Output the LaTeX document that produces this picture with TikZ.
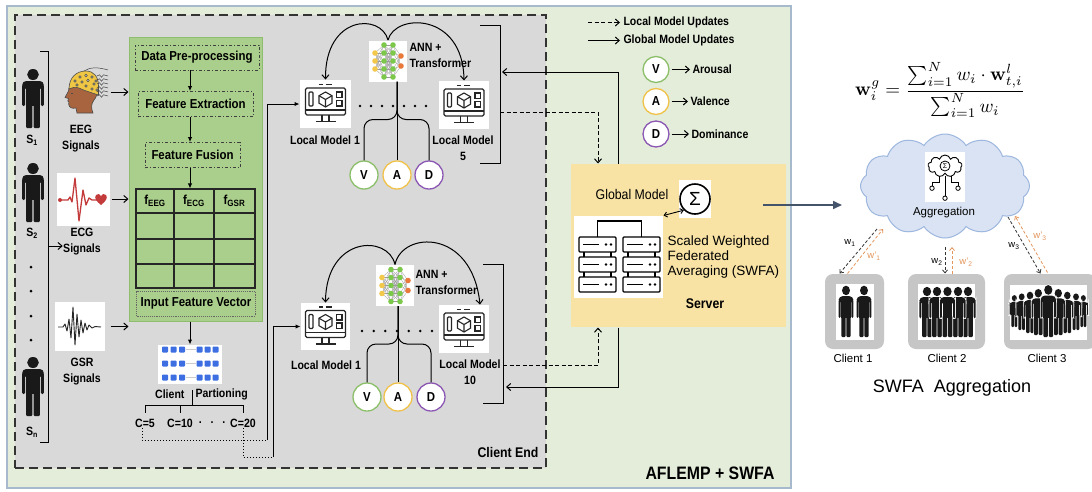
\documentclass[tikz,border=0pt]{standalone}
\usepackage[no-math]{fontspec}
\setmainfont{Liberation Sans}
\newfontfamily\cond[FakeStretch=0.88]{Liberation Sans}
\usetikzlibrary{arrows.meta,shapes.symbols,calc}

% colours
\definecolor{outerbg}{HTML}{E4EDDA}
\definecolor{outerln}{HTML}{A7BACD}
\definecolor{clientbg}{HTML}{D9D9D9}
\definecolor{panelgreen}{HTML}{AACF8C}
\definecolor{panelline}{HTML}{8FBD6E}
\definecolor{serverbg}{HTML}{F8E3A5}
\definecolor{cloudbg}{HTML}{DAE3F3}
\definecolor{cloudln}{HTML}{9DB7DE}
\definecolor{vgreen}{HTML}{8CBF69}
\definecolor{ayellow}{HTML}{F0C24A}
\definecolor{dpurple}{HTML}{8B57B3}
\definecolor{worange}{HTML}{E3965B}
\definecolor{slate}{HTML}{44546A}
\definecolor{chipblue}{HTML}{3D6FE3}
\definecolor{ecgred}{HTML}{C43B3B}
\definecolor{skin}{HTML}{A8643F}
\definecolor{capyellow}{HTML}{EFC745}
\definecolor{clientgray}{HTML}{C6C6C6}
\definecolor{nnline}{HTML}{9A9A9A}
\definecolor{nnorange}{HTML}{E9793A}
\definecolor{nngreen}{HTML}{7CC84A}
\definecolor{nnyellow}{HTML}{F2C94C}

\newcommand\lblfont{\cond\bfseries\fontsize{12}{16}\selectfont}
\newcommand\stagefont{\cond\bfseries\fontsize{13}{16}\selectfont}

% silhouette of a standing person, feet at the origin
\newcommand\personfill[1]{%
  \fill[#1] (0,-53.5) circle (5.5);
  \fill[#1,rounded corners=4pt] (-10.2,-39) -- (-10.2,-47) -- (10.2,-47) -- (10.2,-39) -- cycle;
  \fill[#1,rounded corners=1.2pt] (-10.2,-43) rectangle (-7.5,-22);
  \fill[#1,rounded corners=1.2pt] (7.5,-43) rectangle (10.2,-22);
  \fill[#1] (-6.5,-45) rectangle (6.5,-22);
  \fill[#1,rounded corners=1pt] (-6.5,-25) rectangle (-0.6,0);
  \fill[#1,rounded corners=1pt] (0.6,-25) rectangle (6.5,0);
}

\tikzset{
  lbl/.style={font=\lblfont, inner sep=0pt, align=center},
  stagebox/.style={draw=black!75, dash dot, line width=0.9pt, font=\stagefont, inner sep=0pt, minimum height=25pt},
  vad/.style={circle, fill=white, line width=1.3pt, minimum size=28pt, inner sep=0pt, font=\cond\bfseries\fontsize{13}{13}\selectfont},
  barb/.style={-{Straight Barb[length=4pt,width=7pt]}},
  smallbarb/.style={-{Straight Barb[length=3pt,width=5pt]}},
  tri/.style={-{Latex[length=5pt,width=4.5pt]}},
  localupd/.style={dash pattern=on 4pt off 2.5pt, line width=1pt},
  whitebox/.style={fill=white, inner sep=0pt},
  person/.pic={\personfill{black!90}},
  personw/.pic={\personfill{white,draw=white,line width=1.3pt}\personfill{black!90}},
  monitor/.pic={
    \begin{scope}[line width=1.1pt, draw=black!85]
      \draw[rounded corners=1.5pt] (-20,-16) rectangle (20,11);
      \draw (-20,6) -- (20,6);
      \draw (-3.5,11) -- (-3.5,17) (3.5,11) -- (3.5,17);
      \draw (-10,17.5) -- (10,17.5);
      \draw (-7,-19.5) -- (-3,-19.5) (0,-19.5) -- (6,-19.5);
      \draw[rounded corners=1pt] (-16.5,-12) rectangle (-12.5,2);
      \draw (0,-12) -- (6.5,-8.3) -- (6.5,-0.8) -- (0,3) -- (-6.5,-0.8) -- (-6.5,-8.3) -- cycle;
      \draw (-6.5,-8.3) -- (0,-4.5) -- (6.5,-8.3) (0,-4.5) -- (0,3);
      \draw (11,-12) rectangle (16.5,-6.5) (11,-3.5) rectangle (16.5,2);
    \end{scope}
  },
  ann/.pic={
    \foreach \ya in {-8,0,8}{\foreach \yb in {-16,-8,0,8,16}{\draw[nnline,line width=0.3pt] (-13,\ya) -- (-4,\yb);}}
    \foreach \ya in {-16,-8,0,8,16}{\foreach \yb in {-16,-8,0,8,16}{\draw[nnline,line width=0.3pt] (-4,\ya) -- (5,\yb);}}
    \foreach \ya in {-16,-8,0,8,16}{\foreach \yb in {-5,5}{\draw[nnline,line width=0.3pt] (5,\ya) -- (13,\yb);}}
    \foreach \y in {-8,0,8}{\fill[nnyellow] (-13,\y) circle (2.8);}
    \foreach \y in {-16,-8,0,8,16}{\fill[nngreen] (-4,\y) circle (2.8); \fill[nngreen] (5,\y) circle (2.8);}
    \foreach \y in {-5,5}{\fill[nnorange] (13,\y) circle (2.8);}
  },
}

\begin{document}
\begin{tikzpicture}[x=1pt,y=-1pt,line width=1pt]
\useasboundingbox (0,0) rectangle (1092,491);
\clip (0,0) rectangle (1092,491);
\fill[white] (0,0) rectangle (1092,491);

% ---------------- frames ----------------
\node[fill=outerbg, draw=outerln, line width=1.2pt, minimum width=784pt, minimum height=482pt, inner sep=0pt] (outer) at (399,247) {};
\node[fill=clientbg, draw=black!80, dash pattern=on 9pt off 5pt, line width=1.4pt, minimum width=531pt, minimum height=453pt, inner sep=0pt] (clientend) at (280.5,241.5) {};
\node[font=\cond\bfseries\fontsize{18}{18}\selectfont, inner sep=0pt] (title) at (710,473) {AFLEMP + SWFA};
\node[font=\cond\bfseries\fontsize{14}{14}\selectfont, inner sep=0pt] (celabel) at (508,452) {Client End};

% ---------------- subjects ----------------
\pic[xscale=1.06] at (33,128) {person};
\pic[xscale=1.06] at (33,222) {person};
\pic[xscale=1.06] at (33,416) {person};
\node[lbl] (s1) at (32,140) {S\textsubscript{1}};
\node[lbl] (s2) at (32,233) {S\textsubscript{2}};
\node[lbl] (sn) at (32,432) {S\textsubscript{n}};
\foreach \yy in {267,291,316,340} \fill (31,\yy) circle (1.5);
\coordinate (bt) at (48,51);
\coordinate (bb) at (48,442);
\coordinate (bm) at (48,246);
\draw ($(bt)+(-8,0)$) -- (bt) -- (bb) -- ($(bb)+(-8,0)$);

% ---------------- signals ----------------
\node[minimum width=42pt, minimum height=40pt, inner sep=0pt] (eeg) at (86,92) {};
\fill[skin, draw=black!70, line width=0.6pt] (79,80) .. controls (72,82) and (68.5,86) .. (68.5,91) -- (65,97.5) -- (68.5,98.5) -- (67.8,101) -- (69,102) -- (68.6,104) .. controls (69,107.5) and (72,109) .. (76,108) -- (77,113) -- (93,113) .. controls (91,108) and (91,104) .. (94,100) .. controls (98.5,95) and (98.5,85) .. (94,79) -- cycle;
\fill[capyellow, draw=black!70, line width=0.6pt] (69,89) .. controls (69,77) and (77,71) .. (86,71) .. controls (94,71) and (98.5,77) .. (98.5,86) -- (98.5,95) .. controls (93,93) and (85,91) .. (79,88) .. controls (75,86.5) and (72,87.5) .. (69,89) -- cycle;
\foreach \px/\py in {75/81, 80/77, 86/75.5, 92/77, 96/81, 77/85, 82/82, 88/80.5, 94/84, 86/86, 92/89, 97/90}{\draw[black!75, line width=0.5pt, fill=white] (\px,\py) circle (1.2);}
\foreach \wy in {76,80,84,88,92,96}{\draw[black!75, line width=0.5pt] (97,\wy) -- (99.5,\wy-1.2) -- (101.5,\wy+1.2) -- (103.5,\wy-1.2) -- (108,\wy);}
\draw[black!75, line width=0.5pt] (84,71) .. controls (90,67) and (98,67) .. (108,70);
\draw[black!70, line width=0.6pt] (70.5,93) -- (72.5,93);
\node[lbl] (eeglab) at (81,139) {EEG\\Signals};

\node[whitebox, minimum width=53pt, minimum height=53pt] (ecg) at (83.5,199) {};
\draw[ecgred, line width=1.3pt, line join=round] (60,200) -- (68,200) -- (70,197) -- (72,202) -- (75,178) -- (79,221) -- (83,190) -- (86,205) -- (89,198) -- (92,200) -- (97,200);
\fill[ecgred] (60,200) circle (2);
\fill[ecgred] (101,205) .. controls (96,201) and (94,198) .. (96,195) .. controls (98,193) and (100,194) .. (101,196) .. controls (102,194) and (104,193) .. (106,195) .. controls (108,198) and (106,201) .. (101,205) -- cycle;
\node[lbl] (ecglab) at (82,242) {ECG\\Signals};

\node[whitebox, minimum width=50pt, minimum height=49pt] (gsr) at (80,326.5) {};
\draw[black!85, line width=0.9pt, line join=round] (58,327) -- (63,327) -- (65,324) -- (67,331) -- (69,319) -- (71,338) -- (73,307) -- (75,345) -- (77,314) -- (79,337) -- (81,320) -- (83,333) -- (85,323) -- (87,330) -- (89,325) -- (92,328) -- (95,326.5) -- (101,327);
\node[lbl] (gsrlab) at (82,372) {GSR\\Signals};

\draw[barb] (bm) -- (ecglab.west |- bm);

% ---------------- feature panel ----------------
\node[fill=panelgreen, draw=panelline, line width=1pt, minimum width=133pt, minimum height=284pt, inner sep=0pt] (panel) at (195.5,179) {};
\draw[barb] ($(eeg.east)+(3,0)$) -- (panel.west |- eeg.east);
\draw[barb] ($(ecg.east)+(1,0)$) -- (panel.west |- ecg.east);
\draw[barb] ($(gsr.east)+(5,0)$) -- (panel.west |- gsr.east);

\coordinate (axis) at (190,0);
\node[stagebox, minimum width=124pt] (dp) at (197,57.5) {Data Pre-processing};
\node[stagebox, minimum width=115pt] (fe) at (195.5,104) {Feature Extraction};
\node[stagebox, minimum width=95pt] (ff) at (192.5,155) {Feature Fusion};
\node[draw=black!85, line width=1.2pt, minimum width=119pt, minimum height=99pt, inner sep=0pt] (tbl) at (195.5,238.5) {};
\draw[line width=1.2pt, black!85] (174,189) -- (174,288) (214,189) -- (214,288) (136,213) -- (255,213) (136,239) -- (255,239) (136,264) -- (255,264);
\node[font=\stagefont, inner sep=0pt] (feeg) at (155,201) {f\textsubscript{EEG}};
\node[font=\stagefont, inner sep=0pt] (fecg) at (194,201) {f\textsubscript{ECG}};
\node[font=\stagefont, inner sep=0pt] (fgsr) at (234.5,201) {f\textsubscript{GSR}};
\node[draw=black!60, densely dotted, line width=0.9pt, minimum width=119pt, minimum height=25pt, font=\stagefont, inner sep=0pt] (ifv) at (196,303.5) {Input Feature Vector};
\draw[tri] (dp.south -| axis) -- (fe.north -| axis);
\draw[tri] (fe.south -| axis) -- (ff.north -| axis);
\draw[tri] (ff.south -| axis) -- (tbl.north -| axis);

% ---------------- client partitioning ----------------
\node[whitebox, minimum width=64pt, minimum height=39pt] (part) at (190,364.5) {};
\foreach \yy in {349.5,363.5,377.5}{
  \foreach \xx in {165,173.5,182,199.5,207.5,215.5}{\fill[chipblue, rounded corners=0.8pt] (\xx-3,\yy-3) rectangle (\xx+3,\yy+3);}
  \draw[black!20, line width=0.8pt] (186,\yy) -- (196,\yy);
}
\draw[tri] (panel.south -| axis) -- (part.north -| axis);
\node[lbl, anchor=east] (pcl) at (185,394) {Client};
\node[lbl, anchor=west] (ppa) at (195,394) {Partioning};
\node[lbl] (c5) at (145,423) {C=5};
\node[lbl] (c10) at (180,423) {C=10};
\node[lbl] (cdots) at (212,423) {.\ \ \ .\ \ \ .};
\node[lbl] (c20) at (243,423) {C=20};
\coordinate (pj) at (192,405);
\draw (192,390) -- (pj);
\draw (c5.north |- pj) -- (c20.north |- pj);
\draw (c5.north |- pj) -- ++(0,8);
\draw (c10.north |- pj) -- ++(0,8);
\draw (c20.north |- pj) -- ++(0,8);

% ---------------- client group A ----------------
\node[whitebox, minimum width=51pt, minimum height=48pt] (lm1a) at (325.5,104) {};
\pic at (lm1a.center) {monitor};
\node[whitebox, minimum width=50pt, minimum height=48pt] (lm5) at (464,105) {};
\pic at (lm5.center) {monitor};
\node[whitebox, minimum width=38pt, minimum height=41pt] (ann1) at (388,61) {};
\pic at (ann1.center) {ann};
\node[lbl, anchor=west, align=left] (ann1lab) at (409,55) {ANN +\\Transformer};
\node[lbl] (lm1alab) at (325,140) {Local Model 1};
\node[lbl] (lm5lab) at (463,148) {Local Model\\5};
\foreach \xx in {360,371,382,393,404,415,426} \fill (\xx,106) circle (1.4);
\draw[barb] (ann1.north) .. controls (381,13) and (325,15) .. (lm1a.north);
\draw[barb] (ann1.north) .. controls (395,13) and (463,12) .. (lm5.north);
\node[vad, draw=vgreen] (v1) at (364,175) {V};
\node[vad, draw=ayellow] (a1) at (397,175) {A};
\node[vad, draw=dpurple] (d1) at (429,175) {D};
\coordinate (st1) at (397,81.5);
\draw (st1) -- (a1.north);
\draw[rounded corners=9pt] (st1) -- ($(st1)+(0,38)$) -| (v1.north);
\draw[rounded corners=9pt] (st1) -- ($(st1)+(0,38)$) -| (d1.north);
\coordinate (br1t) at (500,25);
\coordinate (br1b) at (500,163);
\draw ($(br1t)+(-20,0)$) -- (br1t) -- (br1b) -- ($(br1b)+(-20,0)$);
\coordinate (b1in) at (500,72);
\coordinate (b1out) at (500,112);

% ---------------- client group B ----------------
\node[whitebox, minimum width=49pt, minimum height=47pt] (lm1b) at (325.5,326.5) {};
\pic at (lm1b.center) {monitor};
\node[whitebox, minimum width=50pt, minimum height=48pt] (lm10) at (464,329) {};
\pic at (lm10.center) {monitor};
\node[whitebox, minimum width=38pt, minimum height=41pt] (ann2) at (395,285.5) {};
\pic at (ann2.center) {ann};
\node[lbl, anchor=west, align=left] (ann2lab) at (415,282) {ANN +\\Transformer};
\node[lbl] (lm1blab) at (326,365) {Local Model 1};
\node[lbl] (lm10lab) at (470,372) {Local Model\\10};
\foreach \xx in {362,373.7,385.3,397,408.7,420.3,432} \fill (\xx,331) circle (1.4);
\draw[barb] (ann2.north) .. controls (388,234) and (326,236) .. (lm1b.north);
\draw[barb] (ann2.north) .. controls (402,231) and (472,228) .. ($(lm10.north)+(16,0)$);
\node[vad, draw=vgreen] (v2) at (367,397) {V};
\node[vad, draw=ayellow] (a2) at (398,397) {A};
\node[vad, draw=dpurple] (d2) at (431,397) {D};
\coordinate (st2) at (398,306);
\draw (st2) -- (a2.north);
\draw[rounded corners=9pt] (st2) -- ($(st2)+(0,38)$) -| (v2.north);
\draw[rounded corners=9pt] (st2) -- ($(st2)+(0,38)$) -| (d2.north);
\coordinate (br2t) at (503,264);
\coordinate (br2b) at (503,403);
\draw ($(br2t)+(-20,0)$) -- (br2t) -- (br2b) -- ($(br2b)+(-20,0)$);
\coordinate (b2out) at (503,365);
\coordinate (b2in) at (503,387);

% partition outputs feeding the local models
\coordinate (k1) at (267,440);
\coordinate (k2) at (273,457);
\draw[dotted, line width=1pt] ($(c5.south)+(-3,0)$) |- (k1);
\draw[tri] (k1) |- (lm1a.west);
\draw[dotted, line width=1pt] (c20.south) |- (k2);
\draw[tri] (k2) |- (lm1b.west);

% ---------------- server ----------------
\node[fill=serverbg, minimum width=215pt, minimum height=163pt, inner sep=0pt] (server) at (678.5,245.5) {};
\coordinate (gx) at (618,0);
\coordinate (lx) at (598,0);
\draw[barb] (server.north -| gx) |- ($(b1in)+(2,0)$);
\draw[localupd, barb] (b1out) -| (server.north -| lx);
\draw[localupd, barb] (b2out) -| (server.south -| lx);
\draw[barb] (server.south -| gx) |- ($(b2in)+(3,0)$);

\node[whitebox, minimum width=89pt, minimum height=82pt] (srvicon) at (618.5,257) {};
\foreach \rx in {579,623}{
  \foreach \ry in {237,257,277}{
    \draw[line width=1.3pt, rounded corners=1pt] (\rx,\ry) rectangle ++(37,15);
    \draw[line width=1.3pt] (\rx+4,\ry+7.5) -- ++(16,0);
    \fill (\rx+27,\ry+7.5) circle (1.3) (\rx+32,\ry+7.5) circle (1.3);
  }
  \draw[line width=1.3pt] (\rx+5,252) -- (\rx+5,257) (\rx+32,252) -- (\rx+32,257) (\rx+5,272) -- (\rx+5,277) (\rx+32,272) -- (\rx+32,277);
}
\draw[line width=1.3pt] (597.5,237) -- (597.5,221) -- (641.5,221) -- (641.5,237);

\node[whitebox, minimum width=32pt, minimum height=38pt] (sigbox) at (695,199) {};
\node[circle, draw, line width=1.6pt, minimum size=30pt, inner sep=0pt, font=\fontsize{19}{19}\selectfont] (sig) at (695,199) {Σ};
\draw[{Straight Barb[length=3pt,width=5pt]}-{Straight Barb[length=3pt,width=5pt]}, line width=0.9pt] (srvicon.north east) -- (sig.south west);
\node[font=\cond\fontsize{14}{14}\selectfont, inner sep=0pt] (gm) at (632,194) {Global Model};
\node[anchor=west, align=left, font=\fontsize{13.5}{15}\selectfont, inner sep=0pt] (swfa) at (667,257) {Scaled Weighted\\Federated\\Averaging (SWFA)};
\node[font=\cond\bfseries\fontsize{14}{14}\selectfont, inner sep=0pt] (srvlab) at (705,304) {Server};

% ---------------- legend ----------------
\node[lbl, anchor=west] (lgl) at (623,22.5) {Local Model Updates};
\node[lbl, anchor=west] (lgg) at (623,40.5) {Global Model Updates};
\draw[localupd, barb] ($(lgl.west)+(-35,0)$) -- ($(lgl.west)+(-3,0)$);
\draw[barb] ($(lgg.west)+(-35,0)$) -- ($(lgg.west)+(-3,0)$);
\node[vad, draw=vgreen, minimum size=26pt] (lv) at (656,69.5) {V};
\node[vad, draw=ayellow, minimum size=26pt] (la) at (656,101.5) {A};
\node[vad, draw=dpurple, minimum size=26pt] (ld) at (656,134) {D};
\node[lbl, anchor=west] (lvt) at (692,69.5) {Arousal};
\node[lbl, anchor=west] (lat) at (690,101.5) {Valence};
\node[lbl, anchor=west] (ldt) at (691,134) {Dominance};
\draw[barb, shorten <=2pt, shorten >=2pt] (lv.east) -- (lvt.west);
\draw[barb, shorten <=2pt, shorten >=2pt] (la.east) -- (lat.west);
\draw[barb, shorten <=2pt, shorten >=2pt] (ld.east) -- (ldt.west);

% ---------------- SWFA aggregation ----------------
\node[inner sep=0pt] (formula) at (940,90) {\scalebox{1.9}{$\displaystyle \mathbf{w}_i^{g} = \frac{\sum_{i=1}^{N} w_i \cdot \mathbf{w}_{t,i}^{l}}{\sum_{i=1}^{N} w_i}$}};

\node[cloud, cloud puffs=12, cloud puff arc=115, aspect=1.55, draw=cloudln, fill=cloudbg, line width=1pt, minimum width=169pt, minimum height=104pt, inner sep=0pt] (cloud) at (945,186) {};
\coordinate (srvout) at (763,205);
\draw[slate, line width=1.6pt, -{Triangle[length=9pt,width=8pt]}] (srvout) -- ($(cloud.west |- srvout)+(-18,0)$);

\node[whitebox, minimum width=40pt, minimum height=50pt] (aggbox) at (945,177) {};
\node[cloud, cloud puffs=9, draw, line width=0.9pt, fill=white, minimum width=34pt, minimum height=22pt, aspect=1.5, inner sep=0pt] (aggcloud) at (945,166) {};
\draw[line width=0.8pt] (945,166) circle (5);
\node[font=\fontsize{7}{7}\selectfont, inner sep=0pt] at (945,166) {Σ};
\draw[line width=0.8pt] (939,176) -- (939,182) -- (932,182) -- (932,186);
\draw[line width=0.8pt] (945,176) -- (945,196);
\draw[line width=0.8pt] (951,176) -- (951,182) -- (958,182) -- (958,186);
\draw[line width=0.8pt] (932,188.2) circle (2.2) (945,198.2) circle (2.2) (958,188.2) circle (2.2);
\node[font=\fontsize{11.5}{12}\selectfont, inner sep=0pt] (agglab) at (944,213) {Aggregation};

% clients
\node[fill=clientgray, rounded corners=8pt, minimum width=59pt, minimum height=75pt, inner sep=0pt] (c1box) at (854.5,311.5) {};
\node[whitebox, minimum width=38pt, minimum height=56pt] (c1in) at (855,312) {};
\node[fill=clientgray, rounded corners=8pt, minimum width=77pt, minimum height=75pt, inner sep=0pt] (c2box) at (946.5,311.5) {};
\node[whitebox, minimum width=57pt, minimum height=56pt] (c2in) at (946.5,312) {};
\node[fill=clientgray, rounded corners=8pt, minimum width=92pt, minimum height=75pt, inner sep=0pt] (c3box) at (1050,311.5) {};
\node[whitebox, minimum width=77pt, minimum height=55pt] (c3in) at (1048.5,312.5) {};

\pic[xscale=0.72, yscale=0.87] at (846,337) {person};
\pic[xscale=0.72, yscale=0.87] at (864,337) {person};

\pic[xscale=0.75, yscale=0.85] at (927,337) {personw};
\pic[xscale=0.75, yscale=0.85] at (968,337) {personw};
\pic[xscale=0.75, yscale=0.85] at (937,337) {personw};
\pic[xscale=0.75, yscale=0.85] at (958,337) {personw};
\pic[xscale=0.75, yscale=0.85] at (947.5,337) {personw};

\foreach \hx/\fy/\s in {1014.3/327/0.54, 1083.3/327/0.54, 1021.7/330/0.62, 1076/330/0.62, 1030/333/0.70, 1067.3/333/0.70, 1038.3/335/0.78, 1058.3/335/0.78, 1048.3/337/0.88}{
  \pic[xscale=0.85*\s, yscale=\s] at (\hx,\fy) {personw};
}

\node[font=\fontsize{11.5}{12}\selectfont, inner sep=0pt] (c1lab) at (853,358) {Client 1};
\node[font=\fontsize{11.5}{12}\selectfont, inner sep=0pt] (c2lab) at (947,358) {Client 2};
\node[font=\fontsize{11.5}{12}\selectfont, inner sep=0pt] (c3lab) at (1047,358) {Client 3};
\node[font=\fontsize{18}{18}\selectfont, inner sep=0pt] (swfalab) at (952,388) {SWFA\ \ Aggregation};

% weight exchange between the cloud and the clients
\coordinate (r1a) at (877,229);
\coordinate (r1b) at (883,229);
\coordinate (r2a) at (945,247);
\coordinate (r2b) at (952,247);
\coordinate (r3a) at (1008,217);
\coordinate (r3b) at (1015,216);
\draw[black!80, line width=0.8pt, dash pattern=on 3pt off 2pt, smallbarb] (r1a) -- ($(c1box.north west)+(15,0)$);
\draw[worange, line width=0.8pt, dash pattern=on 3pt off 2pt, smallbarb] ($(c1box.north west)+(23,0)$) -- (r1b);
\draw[black!80, line width=0.8pt, dash pattern=on 3pt off 2pt, smallbarb] (r2a) -- ($(c2box.north)+(-1.5,0)$);
\draw[worange, line width=0.8pt, dash pattern=on 3pt off 2pt, smallbarb] ($(c2box.north)+(5.5,0)$) -- (r2b);
\draw[black!80, line width=0.8pt, dash pattern=on 3pt off 2pt, smallbarb] (r3a) -- ($(c3box.north west)+(37,0)$);
\draw[worange, line width=0.8pt, dash pattern=on 3pt off 2pt, smallbarb] ($(c3box.north west)+(44,-1)$) -- (r3b);
\node[font=\fontsize{9.5}{10}\selectfont, inner sep=0pt] (w1) at (850,243) {w\textsubscript{1}};
\node[font=\fontsize{9.5}{10}\selectfont, text=worange, inner sep=0pt] (w1p) at (874,256) {w'\textsubscript{1}};
\node[font=\fontsize{9.5}{10}\selectfont, inner sep=0pt] (w2) at (937,262) {w\textsubscript{2}};
\node[font=\fontsize{9.5}{10}\selectfont, text=worange, inner sep=0pt] (w2p) at (966,262) {w'\textsubscript{2}};
\node[font=\fontsize{9.5}{10}\selectfont, inner sep=0pt] (w3) at (1014,246) {w\textsubscript{3}};
\node[font=\fontsize{9.5}{10}\selectfont, text=worange, inner sep=0pt] (w3p) at (1040,236) {w'\textsubscript{3}};

\end{tikzpicture}
\end{document}
